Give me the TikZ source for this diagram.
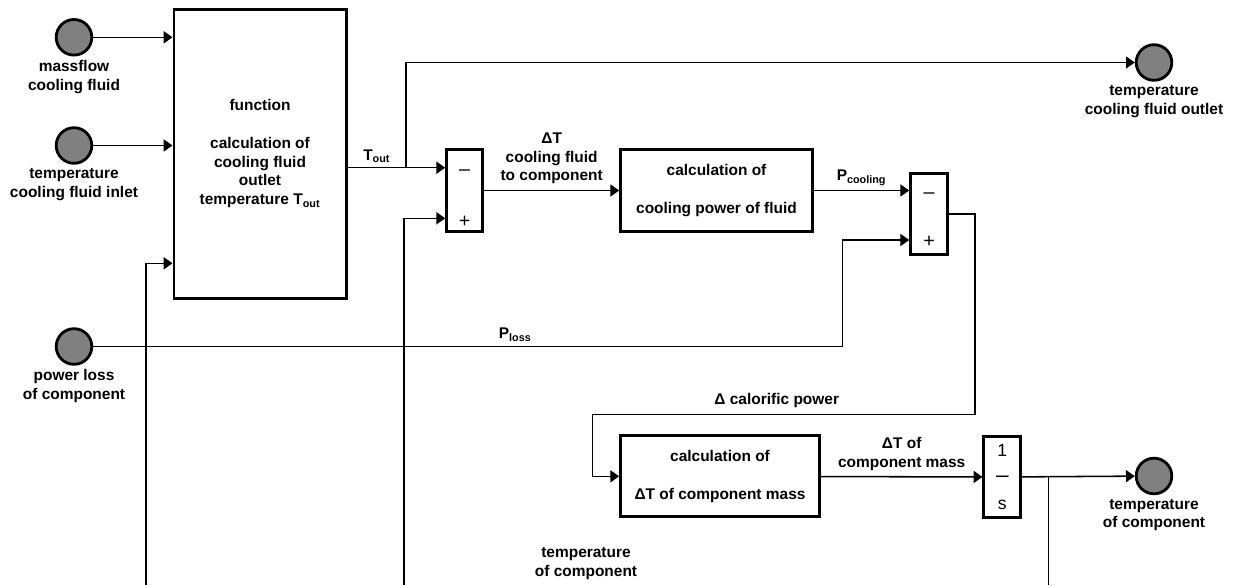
\documentclass[tikz,border=0pt]{standalone}
\usepackage{fontspec}
\setmainfont{Liberation Sans}
\usetikzlibrary{arrows.meta, positioning, calc}
\definecolor{portgray}{RGB}{128,128,128}
\newcommand{\lblfont}{\fontsize{11}{13.4}\selectfont\bfseries}

\begin{document}
\begin{tikzpicture}[
    x=0.025cm, y=-0.025cm,
    port/.style={circle, draw, line width=2pt, fill=portgray,
                 minimum size=0.89cm, inner sep=0pt},
    portlbl/.style={below=1.5pt of #1, align=center, font=\lblfont, inner sep=1pt},
    block/.style={draw, line width=2.1pt, align=center, font=\lblfont, inner sep=0pt},
    sign/.style={font=\fontsize{14}{16}\selectfont, inner sep=0pt},
    arr/.style={-{Triangle[length=0.22cm, width=0.3cm]}, line width=1.1pt},
    wire/.style={line width=1.1pt},
    lbl/.style={font=\lblfont, align=center, inner sep=1pt}
  ]
  \useasboundingbox (0,0) rectangle (1234,585);

  % Input ports
  \node[port] (mf) at (74,37.3) {};
  \node[portlbl=mf] (mflbl) {massflow\\cooling fluid};
  \node[port] (tin) at (74,145.5) {};
  \node[portlbl=tin] (tinlbl) {temperature\\cooling fluid inlet};
  \node[port] (ploss) at (74,346.5) {};
  \node[portlbl=ploss] (plosslbl) {power loss\\of component};

  % Output ports
  \node[port] (tfo) at (1154,62.5) {};
  \node[portlbl=tfo] (tfolbl) {temperature\\cooling fluid outlet};
  \node[port] (tcomp) at (1154,476) {};
  \node[portlbl=tcomp] (tcomplbl) {temperature\\of component};

  % Function block
  \node[block, minimum width=4.3cm, minimum height=7.22cm] (func) at (260,153.7)
        {function\\[13.4pt]calculation of\\cooling fluid\\outlet\\temperature T\textsubscript{out}};

  % Sum 1
  \node[block, minimum width=0.9cm, minimum height=2.03cm] (sum1) at (464.7,190.5) {};
  \node[sign] (sum1m) at ([yshift=-0.6cm]sum1.north) {–};
  \node[sign] (sum1p) at ([yshift=0.28cm]sum1.south) {+};

  % Cooling power
  \node[block, minimum width=4.79cm, minimum height=2.03cm] (cpow) at (716.5,190.5)
        {calculation of\\[13.4pt]cooling power of fluid};

  % Sum 2
  \node[block, minimum width=0.915cm, minimum height=2.03cm] (sum2) at (929,213.8) {};
  \node[sign] (sum2m) at ([yshift=-0.6cm]sum2.north) {–};
  \node[sign] (sum2p) at ([yshift=0.36cm]sum2.south) {+};

  % Component mass
  \node[block, minimum width=4.97cm, minimum height=2.02cm] (dtmass) at (720,476.3)
        {calculation of\\[13.4pt]ΔT of component mass};

  % Integrator
  \node[block, minimum width=0.92cm, minimum height=2.02cm,
        font=\fontsize{12.5}{19}\selectfont] (integ) at (1002.3,477)
        {1\\{\fontsize{16}{19}\selectfont –}\\s};

  \node[lbl] (fblbl) at (586,563.5) {temperature\\of component};

  % Junctions and free ends
  \coordinate (tbranch) at (406,167.7);
  \coordinate (fbfunc) at (146,585);
  \coordinate (fbsum) at (404,585);
  \coordinate (plbend) at (842.7,346.5);
  \coordinate (dcpr) at (975,414.3);
  \coordinate (dcpl) at (592.3,414.3);
  \coordinate (tcbranch) at (1048.3,476.2);
  \coordinate (fbend) at (1048.3,585);

  % Arrows
  \draw[arr] (mf) -- (mf -| func.west);
  \draw[arr] (tin) -- (tin -| func.west);
  \draw[arr] (fbfunc) |- (func.west |- 0,263.3);
  \draw[wire] (func.east |- tbranch) -- node[lbl, above=2pt]{T\textsubscript{out}} (tbranch);
  \draw[arr] (tbranch) -- (sum1.west |- tbranch);
  \draw[arr] (tbranch) |- (tfo);
  \draw[arr] (fbsum) |- (sum1.west |- 0,218.3);
  \draw[arr] (sum1) -- node[lbl, above=3pt]{ΔT\\cooling fluid\\to component} (cpow);
  \draw[arr] (cpow) -- node[lbl, above=2pt]{P\textsubscript{cooling}} (sum2.west |- cpow);
  \draw[arr] (ploss) -- node[lbl, above=2pt, pos=0.563]{P\textsubscript{loss}} (plbend)
        |- (sum2.west |- 0,240);
  \draw[arr] (sum2.east) -| (dcpr) -- node[lbl, above=3pt, pos=0.518]{Δ calorific power} (dcpl)
        |- (dtmass);
  \draw[arr] (dtmass) -- node[lbl, above=3pt]{ΔT of\\component mass} (integ);
  \draw[arr] (integ) -- (tcomp);
  \draw[wire] (tcbranch) -- (fbend);
\end{tikzpicture}
\end{document}
